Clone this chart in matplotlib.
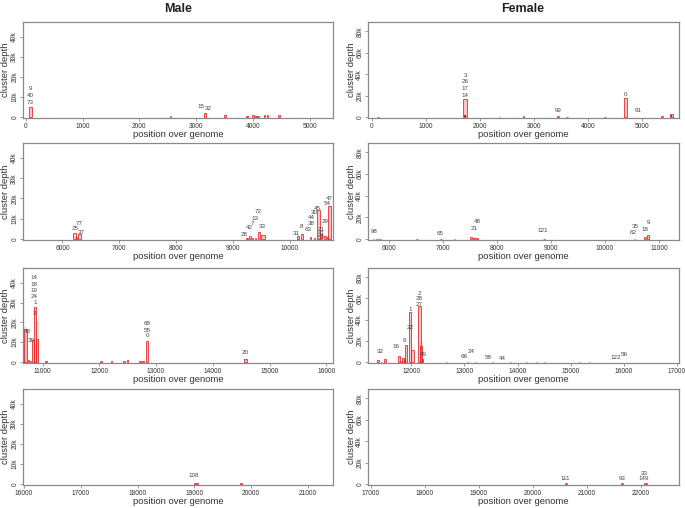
import matplotlib
matplotlib.use("Agg")
import matplotlib.pyplot as plt
import numpy as np

plt.rcParams['font.family'] = ['Liberation Sans', 'DejaVu Sans']

# ---------------- DATA ----------------
# Male panels
m1_start = [62, 2540, 3140, 3490, 3880, 3990, 4040, 4080, 4190, 4240, 4440]
m1_end   = [112, 2560, 3180, 3530, 3920, 4020, 4070, 4110, 4220, 4270, 4470]
m1_depth = [5000, 300, 2000, 800, 600, 700, 500, 400, 900, 900, 800]
m1_lab_x = [85, 85, 85, 3090, 3215]
m1_lab_y = [7000, 10500, 14000, 5200, 4000]
m1_lab   = ["73", "40", "9", "15", "32"]

m2_start = [6193, 6230, 6265, 9230, 9290, 9330, 9380, 9440, 9500, 10130, 10190, 10350, 10420, 10479, 10540, 10600, 10650, 10671]
m2_end   = [6235, 6260, 6321, 9260, 9320, 9360, 9410, 9475, 9555, 10170, 10230, 10380, 10450, 10537, 10570, 10640, 10665, 10730]
m2_depth = [3000, 800, 2500, 500, 1500, 600, 400, 3500, 2000, 1500, 2200, 800, 600, 14500, 2500, 1200, 800, 16200]
m2_lab_x = [6216, 6292, 6339, 9194, 9287, 9346, 9393, 9445, 9515, 10122, 10199, 10321, 10380, 10380, 10425, 10480, 10555, 10555, 10555, 10620, 10660, 10700]
m2_lab_y = [5300, 7800, 3000, 2300, 5500, 7800, 10300, 13300, 6200, 2800, 6200, 4800, 7500, 10500, 13000, 15000, 4500, 2500, 800, 8500, 17500, 20000]
m2_lab   = ["25", "77", "37", "28", "42", "7", "13", "72", "33", "31", "8", "63", "38", "44", "30", "45", "21", "41", "59", "29", "54", "47"]

m3_start = [10660, 10678, 10740, 10780, 10807, 10842, 10889, 11050, 12020, 12200, 12420, 12480, 12700, 12760, 12819, 14555]
m3_end   = [10675, 10719, 10760, 10800, 10842, 10889, 10924, 11070, 12040, 12220, 12450, 12510, 12730, 12790, 12860, 14596]
m3_depth = [1000, 16700, 800, 600, 10800, 27800, 11700, 200, 300, 300, 500, 800, 600, 600, 10700, 1200]
m3_shadow_start = [10670, 10889]
m3_shadow_end   = [10725, 10930]
m3_shadow_depth = [17800, 20500]
m3_lab_x = [10725, 10800, 10855, 10870, 10854, 10854, 10854, 10854, 12840, 12840, 12840, 14575]
m3_lab_y = [15300, 11000, 24500, 29800, 33000, 36300, 39300, 42800, 13300, 15800, 19300, 4800]
m3_lab   = ["43", "39", "3", "1", "24", "19", "18", "14", "0", "55", "68", "20"]

m4_start = [19000, 19800]
m4_end   = [19060, 19830]
m4_depth = [600, 200]
m4_lab_x = [18985]
m4_lab_y = [4200]
m4_lab   = ["108"]

# Female panels
f1_start = [90, 1693, 2350, 2790, 3430, 3600, 4300, 4672, 5360, 5530]
f1_end   = [120, 1755, 2380, 2820, 3470, 3630, 4330, 4734, 5390, 5570]
f1_depth = [400, 16800, 300, 800, 1200, 300, 300, 17400, 1200, 3000]
f1_inner_start = [1700, 5535]
f1_inner_end   = [1748, 5565]
f1_inner_depth = [1500, 2000]
f1_lab_x = [1724, 1724, 1724, 1724, 3455, 4703, 4930]
f1_lab_y = [20500, 27000, 33000, 39000, 6000, 21500, 6000]
f1_lab   = ["14", "17", "26", "3", "99", "0", "91"]

f2_start = [5700, 5760, 5820, 6500, 6950, 7200, 7500, 7550, 7610, 8850, 10530, 10730, 10780]
f2_end   = [5730, 5790, 5850, 6530, 6980, 7230, 7540, 7600, 7650, 8880, 10560, 10760, 10820]
f2_depth = [400, 300, 300, 200, 300, 200, 1500, 1200, 600, 200, 300, 1500, 3800]
f2_lab_x = [5722, 6938, 7574, 7636, 8852, 10525, 10562, 10735, 10796]
f2_lab_y = [7300, 5400, 9500, 15900, 7600, 6000, 12000, 8900, 15000]
f2_lab   = ["98", "65", "21", "48", "121", "62", "35", "18", "9"]

f3_start = [11360, 11420, 11486, 11749, 11800, 11824, 11862, 11875, 11950, 12000, 12125, 12163, 12200,
            12650, 13050, 13200, 13520, 13850, 14150, 14350, 14500, 15150, 15350]
f3_end   = [11390, 11450, 11530, 11793, 11820, 11862, 11875, 11925, 12000, 12044, 12176, 12207, 12220,
            12670, 13070, 13220, 13540, 13870, 14170, 14370, 14520, 15170, 15370]
f3_depth = [1500, 500, 2800, 6000, 1000, 3800, 2500, 16200, 46900, 11000, 53000, 15600, 2500,
            300, 500, 300, 300, 300, 300, 300, 300, 300, 300]
f3_shadow_start = [12163]
f3_shadow_end   = [12210]
f3_shadow_depth = [20000]
f3_lab_x = [11423, 11718, 11862, 11972, 11985, 12150, 12150, 12150, 12232, 12985, 13117, 13449, 13706, 15846, 16003]
f3_lab_y = [10000, 14400, 20000, 50000, 32800, 54700, 60000, 65000, 7500, 5600, 9700, 4700, 3100, 4400, 7200]
f3_lab   = ["32", "16", "6", "1", "22", "27", "28", "2", "49", "66", "24", "58", "44", "122", "56"]

f4_start = [20600, 21640, 22060]
f4_end   = [20630, 21670, 22110]
f4_depth = [600, 600, 1200]
f4_lab_x = [20611, 21654, 22062, 22062]
f4_lab_y = [5300, 5300, 5300, 10000]
f4_lab   = ["111", "93", "149", "33"]

male_xlims = [(-50, 5410), (5305, 10760), (10655, 16117), (15984, 21438)]
female_xlims = [(-75, 5690), (5611, 11370), (11184, 17037), (16951, 22710)]
male_yticks = [0, 10000, 20000, 30000, 40000]
male_yticklabels = ["0", "10k", "20k", "30k", "40k"]
female_yticks = [0, 20000, 40000, 60000, 80000]
female_yticklabels = ["0", "20k", "40k", "60k", "80k"]

male_panels = [
    (m1_start, m1_end, m1_depth, m1_lab_x, m1_lab_y, m1_lab, None, None),
    (m2_start, m2_end, m2_depth, m2_lab_x, m2_lab_y, m2_lab, None, None),
    (m3_start, m3_end, m3_depth, m3_lab_x, m3_lab_y, m3_lab, (m3_shadow_start, m3_shadow_end, m3_shadow_depth), None),
    (m4_start, m4_end, m4_depth, m4_lab_x, m4_lab_y, m4_lab, None, None),
]
female_panels = [
    (f1_start, f1_end, f1_depth, f1_lab_x, f1_lab_y, f1_lab, None, (f1_inner_start, f1_inner_end, f1_inner_depth)),
    (f2_start, f2_end, f2_depth, f2_lab_x, f2_lab_y, f2_lab, None, None),
    (f3_start, f3_end, f3_depth, f3_lab_x, f3_lab_y, f3_lab, (f3_shadow_start, f3_shadow_end, f3_shadow_depth), None),
    (f4_start, f4_end, f4_depth, f4_lab_x, f4_lab_y, f4_lab, None, None),
]

# ---------------- LAYOUT ----------------
W, H = 685, 508
fig = plt.figure(figsize=(W / 100, H / 100), dpi=100)
rows_px = [(22, 118), (143, 240), (268, 363), (389, 485)]
cols_px = [(23, 333), (368, 679)]
ylabel_px = [5.5, 351]

text_col = '#333333'
frame_col = '#8a8a8a'


def draw_panel(ax, panel, xlim, ylim, yticks, yticklabels):
    s, e, d, lx, ly, lt, shadow, inner = panel
    s = np.array(s); e = np.array(e); d = np.array(d)
    if shadow is not None:
        ss, se, sd = (np.array(v) for v in shadow)
        ax.bar(ss, sd, width=se - ss, align='edge', color='#e2e2e2', edgecolor='none', zorder=1)
    ax.bar(s, d, width=e - s, align='edge', facecolor=(1.0, 0.35, 0.35, 0.35),
           edgecolor=(0.9, 0.1, 0.1, 0.9), linewidth=0.6, zorder=2)
    if inner is not None:
        is_, ie, idp = (np.array(v) for v in inner)
        ax.bar(is_, idp, width=ie - is_, align='edge', color=(0.85, 0.05, 0.05), edgecolor='none', zorder=2.5)
    for x, y, t in zip(lx, ly, lt):
        ax.text(x, y, t, fontsize=4.5, color='#444444', ha='center', va='center', zorder=3)
    ax.xaxis.set_major_locator(matplotlib.ticker.MultipleLocator(1000))
    ax.xaxis.set_major_formatter(matplotlib.ticker.FuncFormatter(lambda v, p: f"{int(v)}"))
    ax.set_xlim(*xlim)
    ax.set_ylim(*ylim)
    ax.set_yticks(yticks)
    ax.set_yticklabels(yticklabels, rotation=90, va='center', fontsize=4.8, color=text_col)
    ax.tick_params(axis='both', direction='out', length=2.2, width=0.6, color=frame_col, pad=1.2,
                   labelsize=4.8, labelcolor=text_col)
    for sp in ax.spines.values():
        sp.set_color(frame_col)
        sp.set_linewidth(0.9)
    ax.set_xlabel("position over genome", fontsize=6.8, color=text_col, labelpad=0.5)
    ax.set_ylabel("cluster depth", fontsize=6.8, color=text_col, va='center', ha='center')


for r, (top, bot) in enumerate(rows_px):
    for c, (left, right) in enumerate(cols_px):
        ax = fig.add_axes([left / W, 1 - bot / H, (right - left) / W, (bot - top) / H])
        if c == 0:
            draw_panel(ax, male_panels[r], male_xlims[r], (-600, 47500), male_yticks, male_yticklabels)
        else:
            draw_panel(ax, female_panels[r], female_xlims[r], (-900, 88700), female_yticks, female_yticklabels)
        ax.yaxis.set_label_coords((ylabel_px[c] - left) / (right - left), 0.5)

fig.text(178 / W, 1 - 9 / H, "Male", fontsize=9, fontweight='bold', ha='center', va='center', color='#222222')
fig.text(523 / W, 1 - 9 / H, "Female", fontsize=9, fontweight='bold', ha='center', va='center', color='#222222')

fig.savefig("out.png", dpi=100)
